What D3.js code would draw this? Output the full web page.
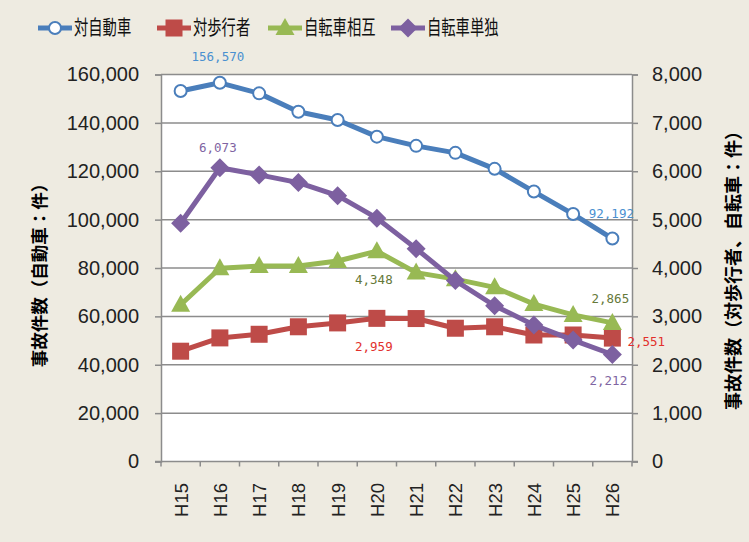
<!doctype html>
<meta charset=utf8>
<title>自転車事故件数</title>
<style>
  body { margin: 0; background: #eeebe1; }
  svg { display: block; font-family: "Noto Sans CJK JP", "Noto Sans", sans-serif; }
</style>
<svg width=749 height=542></svg>
<script src=https://d3js.org/d3.v7.min.js></script>
<script>
  var years = ['H15', 'H16', 'H17', 'H18', 'H19', 'H20', 'H21', 'H22', 'H23', 'H24', 'H25', 'H26'];
  var vsCar = [153200, 156570, 152200, 144600, 141200, 134300, 130500, 127600, 121000, 111600, 102300, 92192];
  var vsPed = [2280, 2555, 2630, 2785, 2865, 2959, 2955, 2755, 2785, 2615, 2615, 2551];
  var bikeBike = [3240, 3995, 4040, 4040, 4145, 4348, 3905, 3770, 3600, 3255, 3030, 2865];
  var bikeSolo = [4925, 6073, 5925, 5765, 5495, 5030, 4400, 3740, 3220, 2820, 2510, 2212];
  var leftTicks = [0, 20000, 40000, 60000, 80000, 100000, 120000, 140000, 160000];
  var rightTicks = [0, 1000, 2000, 3000, 4000, 5000, 6000, 7000, 8000];

  var series = [
    { name: '対自動車', values: vsCar, axis: 'L', color: '#4a7ebb', label: '#4a90d0', shape: 'circle' },
    { name: '対歩行者', values: vsPed, axis: 'R', color: '#be4b48', label: '#e2302c', shape: 'square' },
    { name: '自転車相互', values: bikeBike, axis: 'R', color: '#98b954', label: '#66793a', shape: 'triangle' },
    { name: '自転車単独', values: bikeSolo, axis: 'R', color: '#7d60a0', label: '#8064a2', shape: 'diamond' }
  ];

  var svg = d3.select('svg');
  var plotL = 161, plotR = 632, plotT = 74.5, plotB = 461.5;

  var x = d3.scaleBand().domain(years).range([plotL, plotR]);
  var yL = d3.scaleLinear().domain([0, 160000]).range([plotB, plotT]);
  var yR = d3.scaleLinear().domain([0, 8000]).range([plotB, plotT]);
  var fmt = d3.format(',');

  svg.append('rect').attr('x', plotL).attr('y', plotT)
    .attr('width', plotR - plotL).attr('height', plotB - plotT).attr('fill', '#fff');

  // grid
  svg.append('g').selectAll('line').data(leftTicks.slice(1)).join('line')
    .attr('x1', plotL).attr('x2', plotR)
    .attr('y1', function(d) { return yL(d); }).attr('y2', function(d) { return yL(d); })
    .attr('stroke', '#8c8c8c').attr('stroke-width', 1.5);

  // axes
  var gl = svg.append('g').attr('transform', 'translate(' + plotL + ',0)')
    .call(d3.axisLeft(yL).tickValues(leftTicks).tickFormat(fmt).tickSize(6).tickPadding(16));
  var gr = svg.append('g').attr('transform', 'translate(' + plotR + ',0)')
    .call(d3.axisRight(yR).tickValues(rightTicks).tickFormat(fmt).tickSize(6).tickPadding(14));
  [gl, gr].forEach(function(g) {
    g.select('.domain').attr('stroke', '#8c8c8c').attr('stroke-width', 1.5);
    g.selectAll('.tick line').attr('stroke', '#8c8c8c').attr('stroke-width', 1.5);
    g.selectAll('.tick text').attr('font-size', 20)
      .attr('font-family', '"Liberation Sans", Arial, sans-serif')
      .attr('fill', '#222');
  });

  var gx = svg.append('g');
  gx.append('line').attr('x1', plotL - 6).attr('x2', plotR + 6).attr('y1', plotB).attr('y2', plotB)
    .attr('stroke', '#8c8c8c').attr('stroke-width', 1.5);
  gx.selectAll('line.t').data(d3.range(years.length + 1)).join('line').attr('class', 't')
    .attr('x1', function(i) { return plotL + i * x.step(); })
    .attr('x2', function(i) { return plotL + i * x.step(); })
    .attr('y1', plotB).attr('y2', plotB + 5)
    .attr('stroke', '#8c8c8c').attr('stroke-width', 1.5);
  gx.selectAll('text').data(years).join('text')
    .attr('transform', function(d) { return 'translate(' + (x(d) + x.bandwidth() / 2 + 7) + ',483) rotate(-90)'; })
    .attr('text-anchor', 'end').attr('font-size', 18.5).attr('fill', '#222')
    .attr('font-family', '"Liberation Sans", Arial, sans-serif')
    .text(function(d) { return d; });

  // axis titles
  svg.append('text').attr('transform', 'translate(46,271) rotate(-90)')
    .attr('text-anchor', 'middle').attr('font-size', 17.5).attr('font-weight', 'bold')
    .text('事故件数（自動車：件）');
  svg.append('text').attr('transform', 'translate(740,266) rotate(-90)')
    .attr('text-anchor', 'middle').attr('font-size', 18).attr('font-weight', 'bold')
    .text('事故件数（対歩行者、自転車：件）');

  function cx(i) { return x(years[i]) + x.bandwidth() / 2; }

  function marker(g, shape, color, px, py) {
    if (shape === 'circle') {
      g.append('circle').attr('cx', px).attr('cy', py).attr('r', 6)
        .attr('fill', '#fff').attr('stroke', color).attr('stroke-width', 2);
    } else if (shape === 'square') {
      g.append('rect').attr('x', px - 8.5).attr('y', py - 8.5).attr('width', 17).attr('height', 17).attr('fill', color);
    } else if (shape === 'triangle') {
      g.append('path').attr('d', 'M' + px + ',' + (py - 10) + 'L' + (px + 9.5) + ',' + (py + 7) + 'L' + (px - 9.5) + ',' + (py + 7) + 'Z')
        .attr('fill', color);
    } else {
      g.append('path').attr('d', 'M' + px + ',' + (py - 9.5) + 'L' + (px + 9.5) + ',' + py + 'L' + px + ',' + (py + 9.5) + 'L' + (px - 9.5) + ',' + py + 'Z')
        .attr('fill', color);
    }
  }

  [1, 2, 0, 3].forEach(function(si) {
    var s = series[si];
    var y = s.axis === 'L' ? yL : yR;
    var g = svg.append('g');
    var line = d3.line().x(function(d, i) { return cx(i); }).y(function(d) { return y(d); });
    g.append('path').datum(s.values).attr('d', line)
      .attr('fill', 'none').attr('stroke', s.color).attr('stroke-width', 5).attr('stroke-linejoin', 'round');
    s.values.forEach(function(v, i) { marker(g, s.shape, s.color, cx(i), y(v)); });
  });

  // data labels
  var labels = [
    { s: 0, i: 1, dx: -2, dy: -26, anchor: 'middle' },
    { s: 0, i: 11, dx: -1, dy: -25, anchor: 'middle' },
    { s: 3, i: 1, dx: -2, dy: -20, anchor: 'middle' },
    { s: 3, i: 11, dx: -4, dy: 26, anchor: 'middle' },
    { s: 2, i: 5, dx: -3, dy: 28, anchor: 'middle' },
    { s: 2, i: 11, dx: -2, dy: -24, anchor: 'middle' },
    { s: 1, i: 5, dx: -3, dy: 28, anchor: 'middle' },
    { s: 1, i: 11, dx: 15, dy: 4, anchor: 'start' }
  ];
  svg.append('g').selectAll('text').data(labels).join('text')
    .attr('x', function(d) { return cx(d.i) + d.dx; })
    .attr('y', function(d) {
      var s = series[d.s];
      return (s.axis === 'L' ? yL : yR)(s.values[d.i]) + d.dy;
    })
    .attr('dy', '0.35em').attr('text-anchor', function(d) { return d.anchor; })
    .attr('font-size', 12.5).attr('font-family', '"DejaVu Sans Mono", monospace')
    .attr('fill', function(d) { return series[d.s].label; })
    .text(function(d) { return fmt(series[d.s].values[d.i]); });

  // legend
  var legX = [38, 157, 268, 391];
  var leg = svg.append('g').selectAll('g').data(series).join('g')
    .attr('transform', function(d, i) { return 'translate(' + legX[i] + ',28)'; });
  leg.append('line').attr('x1', 0).attr('x2', 34).attr('stroke', function(d) { return d.color; }).attr('stroke-width', 5);
  leg.each(function(d) { marker(d3.select(this), d.shape, d.color, 17, 0); });
  leg.append('text').attr('x', 36).attr('dy', '0.36em').attr('font-size', 20).attr('fill', '#111')
    .attr('textLength', function(d) { return d.name.length * 14.3; })
    .attr('lengthAdjust', 'spacingAndGlyphs')
    .text(function(d) { return d.name; });
</script>
